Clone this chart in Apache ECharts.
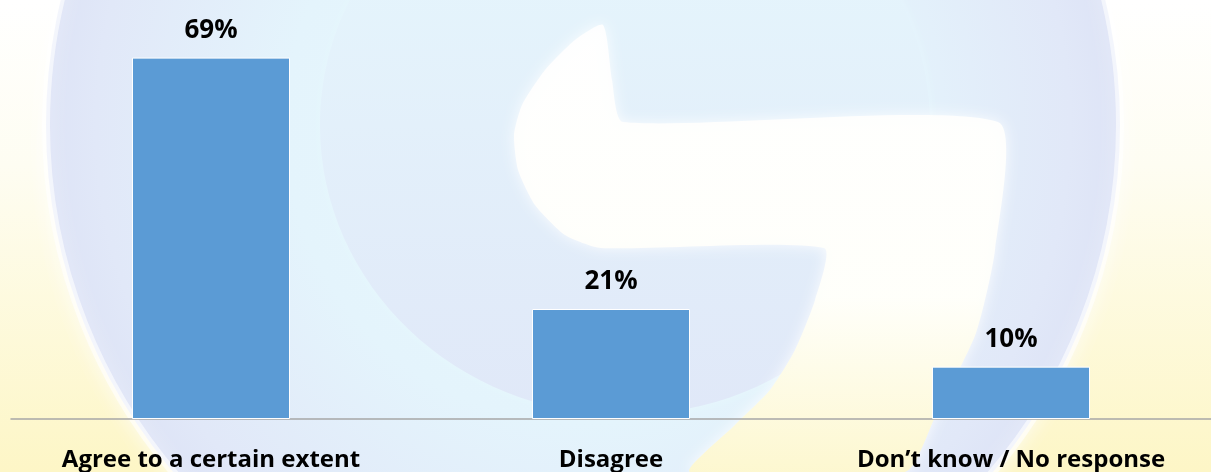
<!DOCTYPE html>
<html>
<head>
    <meta charset="UTF-8">
    <title>survey</title>
    <script src="https://cdn.jsdelivr.net/npm/echarts@6/dist/echarts.min.js"></script>
    <style>
        html, body { margin: 0; padding: 0; background: #fff; }
        #chart { width: 1211px; height: 472px; }
    </style>
</head>
<body>
<div id="chart"></div>
<script>
    // 数据
    var categories = ['Agree to a certain extent', 'Disagree', 'Don\u2019t know / No response'];
    var values = [69, 21, 10];

    var chart = echarts.init(document.getElementById('chart'));

    // 背景水印 (大致形状)
    var watermark = [
        {
            type: 'rect', z: -10, silent: true,
            shape: { x: 0, y: 0, width: 1211, height: 472 },
            style: {
                fill: new echarts.graphic.LinearGradient(0, 0, 0, 1, [
                    { offset: 0, color: '#ffffff' },
                    { offset: 0.35, color: '#fefdf2' },
                    { offset: 1, color: '#fdf6c6' }
                ])
            }
        },
        {
            type: 'circle', z: -9, silent: true,
            shape: { cx: 583, cy: 125, r: 537 },
            style: {
                fill: new echarts.graphic.RadialGradient(0.5, 0.5, 0.5, [
                    { offset: 0, color: '#e8f8fd' },
                    { offset: 0.55, color: '#e4f4fc' },
                    { offset: 0.9, color: '#e1e8f8' },
                    { offset: 1, color: '#dde3f6' }
                ]),
                stroke: 'rgba(255,255,255,0.6)',
                lineWidth: 8,
                shadowBlur: 20,
                shadowColor: 'rgba(255,255,255,0.8)'
            }
        },
        {
            type: 'ellipse', z: -8, silent: true,
            shape: { cx: 625, cy: 125, rx: 305, ry: 290 },
            style: {
                fill: new echarts.graphic.LinearGradient(0, 0, 0, 1, [
                    { offset: 0, color: '#e6f8fd' },
                    { offset: 1, color: '#e0e8f8' }
                ]),
                shadowBlur: 10,
                shadowColor: 'rgba(230,248,253,0.8)'
            }
        },
        {
            type: 'polygon', z: -7, silent: true,
            shape: {
                smooth: 0.2,
                points: [
                    [603, 25], [575, 40], [545, 70], [522, 105], [514, 135], [518, 170],
                    [535, 205], [565, 235], [601, 248], [824, 248], [815, 300], [795, 350],
                    [770, 390], [735, 425], [690, 472], [905, 472], [935, 417], [976, 333],
                    [995, 250], [998, 122], [623, 122], [612, 80]
                ]
            },
            style: {
                fill: new echarts.graphic.LinearGradient(0, 0, 0, 1, [
                    { offset: 0, color: 'rgba(255,255,255,0.9)' },
                    { offset: 0.6, color: 'rgba(255,255,250,0.95)' },
                    { offset: 1, color: 'rgba(253,247,204,0.95)' }
                ]),
                shadowBlur: 14,
                shadowColor: 'rgba(255,255,255,0.9)'
            }
        }
    ];

    chart.setOption({
        animation: false,
        graphic: watermark,
        grid: {
            left: 11,
            right: -6,
            top: 0,
            bottom: 52
        },
        xAxis: {
            type: 'category',
            data: categories,
            axisLine: { show: true, lineStyle: { color: '#a6a6a6', width: 1.5 } },
            axisTick: { show: false },
            axisLabel: {
                interval: 0,
                margin: 29,
                color: '#000',
                fontFamily: 'Open Sans',
                fontWeight: 'bold',
                fontSize: 24
            }
        },
        yAxis: {
            type: 'value',
            min: 0,
            max: 80,
            show: false,
            splitLine: { show: false }
        },
        series: [
            {
                type: 'bar',
                data: values,
                barWidth: 158,
                itemStyle: {
                    color: '#5b9bd5',
                    borderColor: '#ffffff',
                    borderWidth: 1
                },
                label: {
                    show: true,
                    position: 'top',
                    distance: 14,
                    formatter: '{c}%',
                    color: '#000',
                    fontFamily: 'Open Sans',
                    fontWeight: 'bold',
                    fontSize: 26
                }
            }
        ]
    });
</script>
</body>
</html>
